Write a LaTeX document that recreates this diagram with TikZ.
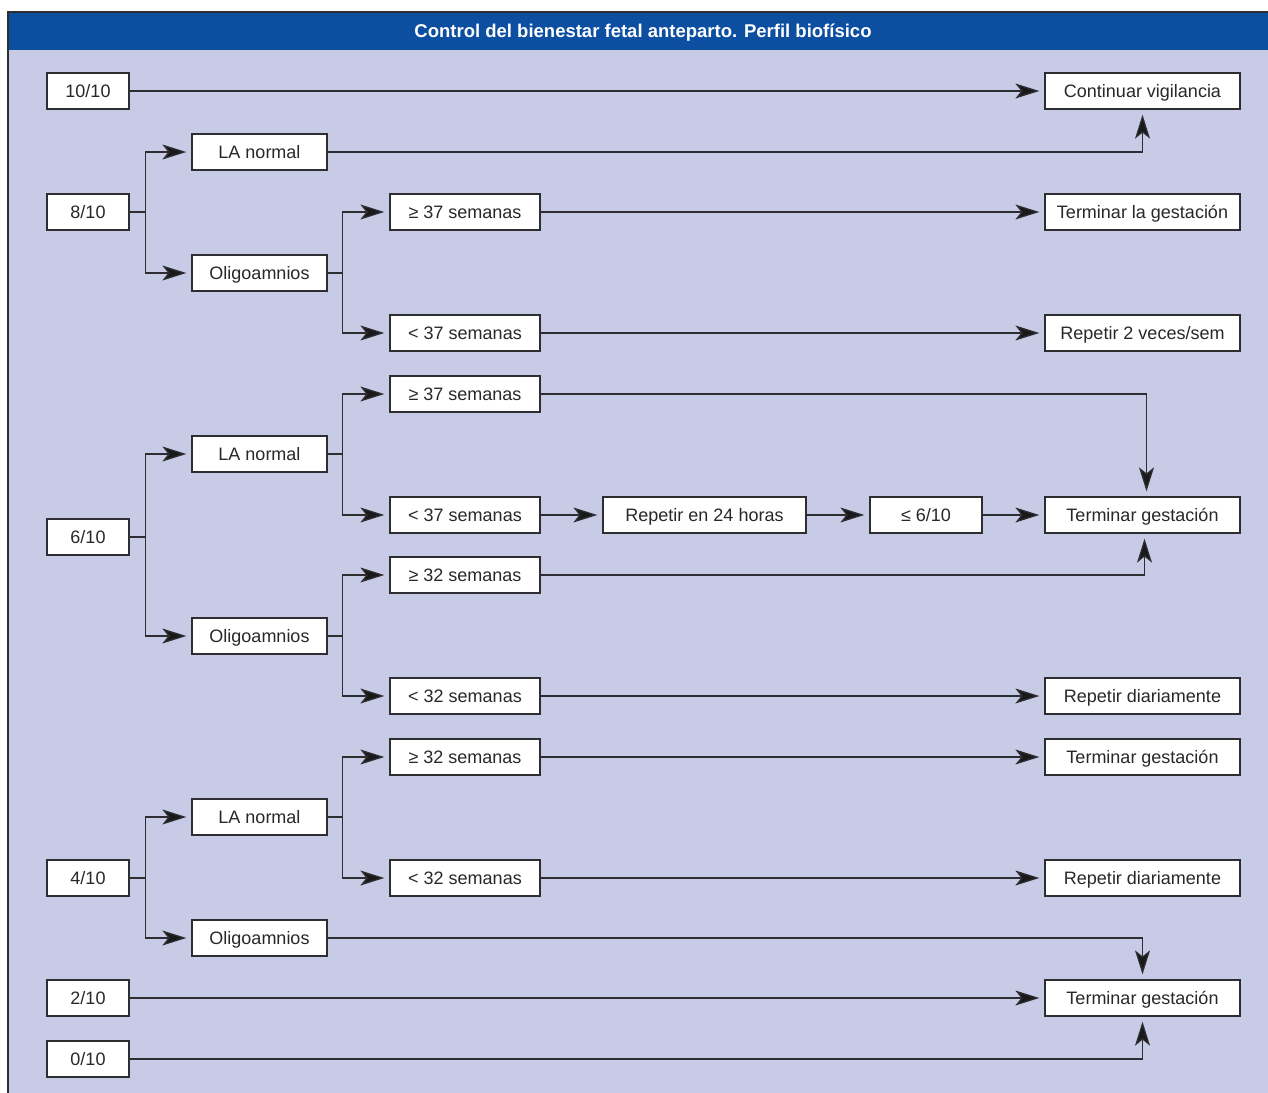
\documentclass[tikz,border=0pt]{standalone}
\usepackage{fontspec}
\setmainfont{Liberation Sans}
\usetikzlibrary{arrows.meta}
\definecolor{hdrblue}{RGB}{12,78,160}
\definecolor{bglav}{RGB}{200,203,230}
\definecolor{linegray}{RGB}{45,45,50}
\definecolor{txtgray}{RGB}{40,40,40}
\tikzset{
  bx/.style={draw=linegray, line width=1.3pt, fill=white, minimum height=36pt, inner sep=0pt,
    text height=13pt, text depth=0pt,
    text=txtgray, font=\fontsize{18}{20}\selectfont},
  c1/.style={bx, minimum width=82pt},
  c2/.style={bx, minimum width=135pt},
  c3/.style={bx, minimum width=150pt},
  c4/.style={bx, minimum width=195pt},
  ln/.style={draw=linegray, line width=1.3pt},
  arr/.style={ln, -{Stealth[length=24pt,width=15pt,inset=6pt,fill=black!90]}, shorten >=5pt},
}
\begin{document}
\begin{tikzpicture}[x=1pt,y=-1pt]
\useasboundingbox (0,0) rectangle (1268,1092);
\fill[bglav] (8,12) rectangle (1290,1100);
\fill[hdrblue] (8,12) rectangle (1290,50);
\draw[linegray, line width=1.5pt] (8,1100) -- (8,12) -- (1290,12);
\node[text=white, text height=13pt, text depth=0pt, font=\fontsize{18.5}{20}\selectfont\bfseries] (title) at (643,31) {Control del bienestar fetal anteparto. Perfil biofísico};

% column 1
\node[c1] (s10) at (88,91) {10/10};
\node[c1] (s8) at (88,212) {8/10};
\node[c1] (s6) at (88,537) {6/10};
\node[c1] (s4) at (88,878) {4/10};
\node[c1] (s2) at (88,998) {2/10};
\node[c1] (s0) at (88,1059) {0/10};

% column 2
\node[c2] (la8) at (259.5,152) {LA normal};
\node[c2] (ol8) at (259.5,273) {Oligoamnios};
\node[c2] (la6) at (259.5,454) {LA normal};
\node[c2] (ol6) at (259.5,636) {Oligoamnios};
\node[c2] (la4) at (259.5,817) {LA normal};
\node[c2] (ol4) at (259.5,938) {Oligoamnios};

% column 3
\node[c3] (a8) at (465,212) {≥ 37 semanas};
\node[c3] (b8) at (465,333) {< 37 semanas};
\node[c3] (a6) at (465,394) {≥ 37 semanas};
\node[c3] (b6) at (465,515) {< 37 semanas};
\node[c3] (c6) at (465,575) {≥ 32 semanas};
\node[c3] (d6) at (465,696) {< 32 semanas};
\node[c3] (c4) at (465,757) {≥ 32 semanas};
\node[c3] (d4) at (465,878) {< 32 semanas};

% middle
\node[bx, minimum width=203pt] (rep24) at (704.5,515) {Repetir en 24 horas};
\node[bx, minimum width=112pt] (le6) at (926,515) {≤ 6/10};

% right column
\node[c4] (cv) at (1142.5,91) {Continuar vigilancia};
\node[c4] (tlg) at (1142.5,212) {Terminar la gestación};
\node[c4] (r2) at (1142.5,333) {Repetir 2 veces/sem};
\node[c4] (tg1) at (1142.5,515) {Terminar gestación};
\node[c4] (rd1) at (1142.5,696) {Repetir diariamente};
\node[c4] (tg2) at (1142.5,757) {Terminar gestación};
\node[c4] (rd2) at (1142.5,878) {Repetir diariamente};
\node[c4] (tg3) at (1142.5,998) {Terminar gestación};

% connectors
\draw[arr] (s10) -- (cv);

\draw[ln] (s8.east) -- ++(16,0) coordinate (j8);
\draw[arr] (j8) |- (la8.west);
\draw[arr] (j8) |- (ol8.west);
\draw[arr] (la8.east) -| (cv.south);
\draw[ln] (ol8.east) -- ++(15,0) coordinate (k8);
\draw[arr] (k8) |- (a8.west);
\draw[arr] (k8) |- (b8.west);
\draw[arr] (a8) -- (tlg);
\draw[arr] (b8) -- (r2);

\draw[ln] (s6.east) -- ++(16,0) coordinate (j6);
\draw[arr] (j6) |- (la6.west);
\draw[arr] (j6) |- (ol6.west);
\draw[ln] (la6.east) -- ++(15,0) coordinate (k6);
\draw[arr] (k6) |- (a6.west);
\draw[arr] (k6) |- (b6.west);
\draw[ln] (ol6.east) -- ++(15,0) coordinate (m6);
\draw[arr] (m6) |- (c6.west);
\draw[arr] (m6) |- (d6.west);
\draw[arr] (a6.east) -| ([xshift=4pt]tg1.north);
\draw[arr] (b6) -- (rep24);
\draw[arr] (rep24) -- (le6);
\draw[arr] (le6) -- (tg1);
\draw[arr] (c6.east) -| ([xshift=2pt]tg1.south);
\draw[arr] (d6) -- (rd1);

\draw[ln] (s4.east) -- ++(16,0) coordinate (j4);
\draw[arr] (j4) |- (la4.west);
\draw[arr] (j4) |- (ol4.west);
\draw[ln] (la4.east) -- ++(15,0) coordinate (k4);
\draw[arr] (k4) |- (c4.west);
\draw[arr] (k4) |- (d4.west);
\draw[arr] (c4) -- (tg2);
\draw[arr] (d4) -- (rd2);
\draw[arr] (ol4.east) -| (tg3.north);
\draw[arr] (s2) -- (tg3);
\draw[arr] (s0.east) -| (tg3.south);
\end{tikzpicture}
\end{document}
